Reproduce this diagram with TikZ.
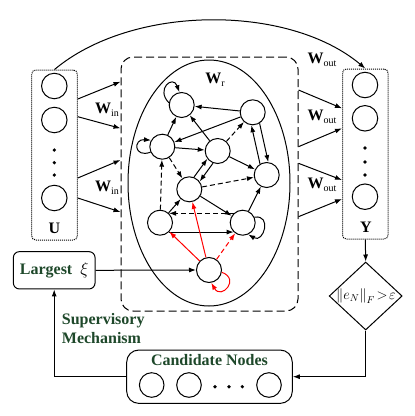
\documentclass[tikz,border=0pt]{standalone}
\usepackage{fontspec}
\setmainfont{Liberation Serif}
\usetikzlibrary{arrows.meta,shapes.geometric,calc}
\definecolor{dgreen}{RGB}{30,72,42}
\newcommand{\Wsub}[1]{\textbf{W}\raisebox{-0.45ex}{\fontsize{10}{10}\selectfont #1}}
\begin{document}
\begin{tikzpicture}[x=1pt,y=1pt,
  >={Latex[length=7pt,width=5pt]},
  every node/.style={font=\fontsize{16}{19}\selectfont},
  rnode/.style={circle,draw,line width=1pt,minimum size=25pt,inner sep=0pt},
  cnode/.style={circle,draw,line width=1pt,minimum size=25.5pt,inner sep=0pt},
  dotnode/.style={circle,fill,inner sep=0pt,minimum size=3.6pt},
  conn/.style={->,line width=1pt},
  dconn/.style={conn,dash pattern=on 5pt off 3pt},
  redc/.style={conn,red},
  reddc/.style={dconn,red},
  colbox/.style={draw,line width=1pt,rounded corners=4pt,dash pattern=on 1pt off 1pt,minimum width=45.6pt,minimum height=170pt,inner sep=0pt},
  lbl/.style={inner sep=0pt}
]
\useasboundingbox (0,0) rectangle (415,-416);

% reservoir frame and ellipse
\node[draw,line width=1pt,rounded corners=12pt,dash pattern=on 8pt off 4pt,minimum width=177pt,minimum height=254pt,inner sep=0pt] (res) at (209.5,-184) {};
\node[draw,line width=1pt,ellipse,minimum width=162pt,minimum height=246pt,inner sep=0pt] (ell) at (209,-183) {};
\node[lbl] (wr) at (215,-80) {\Wsub{r}};

% input column
\node[colbox] (Ubox) at (54.5,-155) {};
\node[cnode] (u1) at (54.3,-86) {};
\node[cnode] (u2) at (54.3,-120) {};
\node[cnode] (u3) at (54.3,-198) {};
\node[dotnode] (ud1) at (54.3,-150) {};
\node[dotnode] (ud2) at (54.3,-162.7) {};
\node[dotnode] (ud3) at (54.3,-175) {};
\node[lbl,font=\fontsize{16}{19}\selectfont\bfseries] (Ul) at (54.3,-228.3) {U};

% output column
\node[colbox] (Ybox) at (365.3,-154) {};
\node[cnode] (y1) at (365,-85) {};
\node[cnode] (y2) at (365,-118.3) {};
\node[cnode] (y3) at (365,-196.7) {};
\node[dotnode] (yd1) at (365,-148) {};
\node[dotnode] (yd2) at (365,-162) {};
\node[dotnode] (yd3) at (365,-175) {};
\node[lbl,font=\fontsize{16}{19}\selectfont\bfseries] (Yl) at (366,-227.7) {Y};

% reservoir nodes
\node[rnode] (A) at (181.7,-105) {};
\node[rnode] (B) at (252.7,-112.3) {};
\node[rnode] (C) at (162.3,-146.7) {};
\node[rnode] (D) at (217.7,-151) {};
\node[rnode] (E) at (266.7,-175) {};
\node[rnode] (F) at (189.3,-189.3) {};
\node[rnode] (G) at (160,-222.7) {};
\node[rnode] (H) at (242.7,-222.7) {};
\node[rnode] (I) at (209,-270) {};

% reservoir edges
\draw[conn] (B) -- (A);
\draw[conn] (B) -- (C);
\draw[conn] (C) -- (A);
\draw[conn] (D) -- (A);
\draw[conn] (C) -- (D);
\draw[dconn] (D) -- (B);
\draw[conn] (B.-58.7) -- (E.83.9);
\draw[conn] (E.121.3) -- (B.-96.1);
\draw[conn] (D) -- (E);
\draw[dconn] (G) -- (C);
\draw[dconn] (C) -- (F);
\draw[conn] (F.69.7) -- (D.217.1);
\draw[conn] (D.249.7) -- (F.37.1);
\draw[dconn] (F) -- (E);
\draw[conn] (H) -- (E);
\draw[conn] (G) -- (F);
\draw[dconn] (H.134) -- (G.46);
\draw[conn] (G.-46) -- (H.-134);
\draw[conn] (F) -- (H);
% self loops
\draw[conn] (A.170) .. controls +(135:19) and +(110:19) .. (A.100);
\draw[conn] (C.205) .. controls +(200:18) and +(175:18) .. (C.150);
\draw[conn] (H.25) .. controls +(10:18) and +(-30:18) .. (H.-65);
% red edges
\draw[redc] (I) -- (G);
\draw[redc] (I) -- (F);
\draw[reddc] (I) -- (H);
\draw[redc] (I.-10) .. controls +(-20:20) and +(-60:20) .. (I.-80);

% input weights
\draw[conn] ([yshift=56pt]Ubox.east) -- ([yshift=102.3pt]res.west);
\draw[conn] ([yshift=38.3pt]Ubox.east) -- ([yshift=55.7pt]res.west);
\draw[conn] ([yshift=-23pt]Ubox.east) -- ([yshift=24pt]res.west);
\draw[conn] ([yshift=-43pt]Ubox.east) -- ([yshift=-28pt]res.west);
\node[lbl] (win1) at (107,-110) {\Wsub{in}};
\node[lbl] (win2) at (107,-188) {\Wsub{in}};

% output weights
\draw[conn] ([yshift=94pt]res.east) -- ([yshift=45.7pt]Ybox.west);
\draw[conn] ([yshift=37.3pt]res.east) -- ([yshift=25.7pt]Ybox.west);
\draw[conn] ([yshift=20.7pt]res.east) -- ([yshift=-26pt]Ybox.west);
\draw[conn] ([yshift=-32.7pt]res.east) -- ([yshift=-45pt]Ybox.west);
\node[lbl] (wo1) at (322,-60) {\Wsub{out}};
\node[lbl] (wo2) at (322,-117) {\Wsub{out}};
\node[lbl] (wo3) at (322,-185) {\Wsub{out}};

% direct input-output curve
\draw[conn] (Ubox.north) .. controls +(40:101) and +(140:101) .. (Ybox.north);

% supervisory part
\node[draw,line width=1pt,rounded corners=6pt,minimum width=81.7pt,minimum height=37.3pt,inner sep=0pt] (lg) at (54.2,-270.3)
  {\textcolor{dgreen}{\textbf{Largest}}\ \ $\xi$};
\draw[conn] (lg.east) -- (I.west);

\node[lbl,align=left,anchor=west,text=dgreen,font=\fontsize{16}{19}\selectfont\bfseries] (sup) at (61.7,-328.8) {Supervisory\\Mechanism};

\node[draw,line width=1pt,rounded corners=12pt,minimum width=165.6pt,minimum height=53.3pt,inner sep=0pt] (cand) at (209.5,-376.7) {};
\node[lbl,text=dgreen,font=\fontsize{16}{19}\selectfont\bfseries] (candl) at (209.5,-360) {Candidate Nodes};
\node[cnode,minimum size=24.6pt] (k1) at (151.7,-385) {};
\node[cnode,minimum size=24.6pt] (k2) at (189,-385) {};
\node[cnode,minimum size=24.6pt] (k3) at (269,-385) {};
\node[dotnode] (kd1) at (215,-386.7) {};
\node[dotnode] (kd2) at (229,-386.7) {};
\node[dotnode] (kd3) at (242.3,-386.7) {};

\node[draw,line width=1pt,diamond,minimum width=73pt,minimum height=68pt,inner sep=0pt] (dia) at (365.7,-296) {};
\node[lbl,font=\fontsize{14}{16}\selectfont] (dial) at (366,-296) {$\bigl\| e_N \bigr\|_F \! > \! \varepsilon$};

\draw[conn] (Ybox.south) -- (dia.north);
\draw[conn] (dia.south) |- (cand.east);
\draw[conn] (cand.west) -| (lg.south);
\end{tikzpicture}
\end{document}
